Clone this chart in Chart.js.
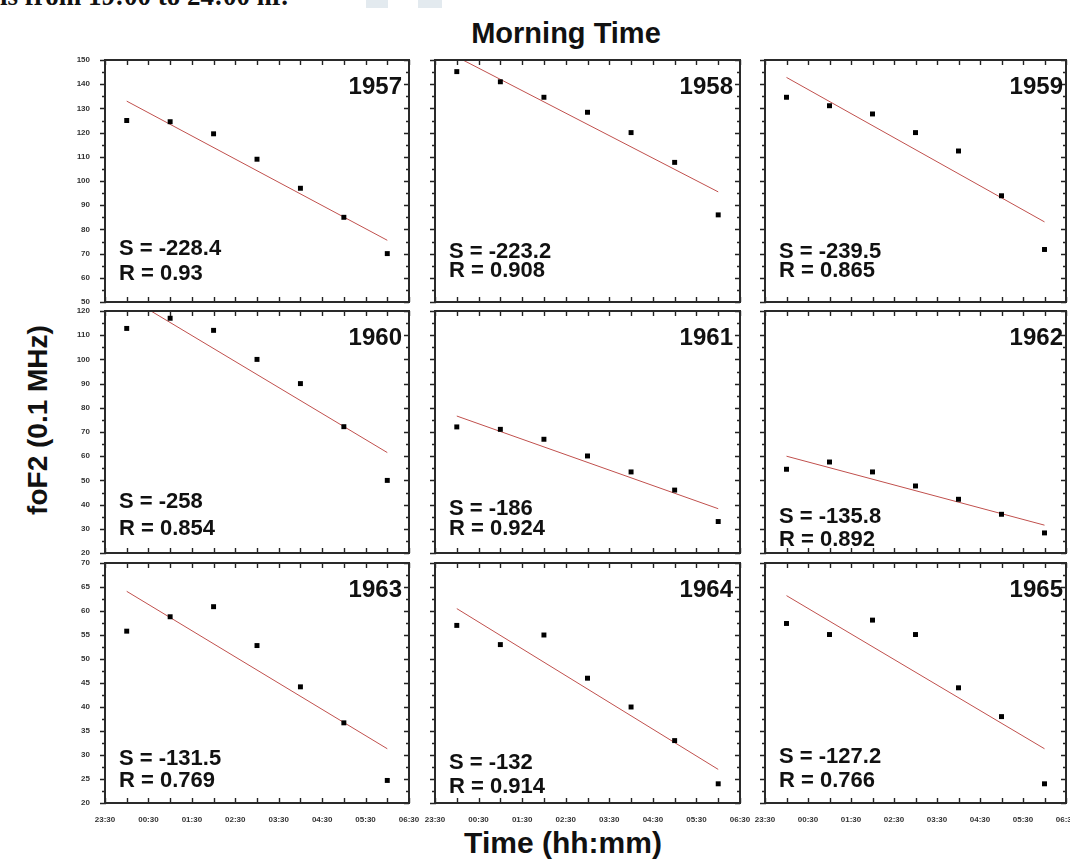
<!DOCTYPE html>
<html>
<head>
    <title>Morning Time - foF2</title>
    <script src="https://cdnjs.cloudflare.com/ajax/libs/Chart.js/4.4.1/chart.umd.min.js"></script>
    <style>
        body {
            margin: 0;
            background: #fff;
            font-family: "Liberation Sans", Arial, sans-serif;
        }

        #page {
            position: relative;
            width: 1070px;
            height: 863px;
            overflow: hidden;
            background: #fff;
        }

        #page canvas {
            position: absolute;
        }

        .label {
            position: absolute;
            font-weight: bold;
            color: #111;
            white-space: nowrap;
            line-height: 1;
            transform: translate(-50%, -50%);
        }

        #topText {
            position: absolute;
            left: 0;
            top: -17px;
            font-family: "Liberation Serif", "Times New Roman", serif;
            font-size: 27px;
            line-height: 27px;
            font-weight: bold;
            color: #111;
            white-space: nowrap;
        }

        .mark {
            position: absolute;
            background: #e3eaef;
        }
    </style>
</head>
<body>
<div id="page">
    <div class="mark" style="left:366px; top:0; width:22px; height:8px;"></div>
    <div class="mark" style="left:418px; top:0; width:24px; height:8px;"></div>
    <div id="topText">is from 19:00 to 24:00 hr.</div>
    <div class="label" style="left:566px; top:33px; font-size:29px;">Morning Time</div>
    <div class="label" style="left:563px; top:843px; font-size:30px;">Time (hh:mm)</div>
    <div class="label" style="left:38px; top:420px; font-size:28px; transform: translate(-50%, -50%) rotate(-90deg);">foF2 (0.1 MHz)</div>
</div>

<script>
    // hours after midnight: 00:00 .. 06:00
    const hours = [0, 1, 2, 3, 4, 5, 6];

    const xTickPos = [-0.5, 0.5, 1.5, 2.5, 3.5, 4.5, 5.5, 6.5];
    const xTickLabels = ['23:30', '00:30', '01:30', '02:30', '03:30', '04:30', '05:30', '06:30'];

    const years = ['1957', '1958', '1959', '1960', '1961', '1962', '1963', '1964', '1965'];

    const f1957 = [125, 124.5, 119.5, 109, 97, 85, 70];
    const f1958 = [145.2, 141, 134.6, 128.4, 120, 107.7, 86];
    const f1959 = [134.6, 131.1, 127.7, 120, 112.4, 93.9, 71.7];
    const f1960 = [112.8, 117, 112, 100, 90, 72.2, 50];
    const f1961 = [72.1, 71.1, 67, 60.1, 53.5, 46, 33];
    const f1962 = [54.6, 57.6, 53.5, 47.7, 42.2, 36, 28.3];
    const f1963 = [55.8, 58.8, 60.9, 52.8, 44.2, 36.7, 24.7];
    const f1964 = [57, 53, 55, 46, 40, 33, 24];
    const f1965 = [57.4, 55.1, 58.1, 55.1, 44, 38, 24];
    const foF2 = [f1957, f1958, f1959, f1960, f1961, f1962, f1963, f1964, f1965];

    // fitted line read at 00:00 and 06:00
    const fitStart = [133, 151.3, 142.8, 126, 76.6, 60, 64.1, 60.5, 63.2];
    const fitEnd = [75.5, 95.5, 83.1, 61.5, 38.3, 31.5, 31.3, 27, 31.3];

    const slopes = ['-228.4', '-223.2', '-239.5', '-258', '-186', '-135.8', '-131.5', '-132', '-127.2'];
    const corrs = ['0.93', '0.908', '0.865', '0.854', '0.924', '0.892', '0.769', '0.914', '0.766'];

    // y range for each row of panels
    const rowMin = [50, 20, 20];
    const rowMax = [150, 120, 70];
    const rowStep = [10, 10, 5];

    // page layout (pixels)
    const colLeft = [105, 435, 765];
    const colRight = [409, 740, 1066];
    const rowTop = [60, 311, 563];
    const rowBottom = [302, 553, 803];
    const M = 16, YW = 45, XH = 22;
    // S / R baselines above the bottom frame, per panel
    const textLift = [[47, 22], [44, 25], [44, 25], [45, 18], [38, 18], [30, 7], [38, 16], [34, 10], [40, 16]];

    Chart.defaults.font.family = '"Liberation Sans", Arial, sans-serif';

    const framePlugin = {
        id: 'frame',
        afterDatasetsDraw(chart, args, opts) {
            const { ctx, chartArea: a, scales: { x, y } } = chart;
            ctx.save();
            ctx.strokeStyle = '#222';
            ctx.lineWidth = 1.4;
            ctx.beginPath();
            // half-hour ticks, inward on top and bottom
            for (let i = -1; i <= 13; i++) {
                const px = Math.round(x.getPixelForValue(i / 2)) + 0.5;
                ctx.moveTo(px, a.top);
                ctx.lineTo(px, a.top + 5);
                ctx.moveTo(px, a.bottom);
                ctx.lineTo(px, a.bottom - 5);
            }
            // major and minor y ticks
            const half = opts.step / 2;
            for (let v = opts.min, k = 0; v <= opts.max + 0.001; v += half, k++) {
                const py = Math.round(y.getPixelForValue(v)) + 0.5;
                const len = k % 2 === 0 ? 5 : 3;
                ctx.moveTo(a.left - len, py);
                ctx.lineTo(a.left + 1, py);
                ctx.moveTo(a.right, py);
                ctx.lineTo(a.right - len, py);
            }
            ctx.stroke();

            ctx.lineWidth = 2;
            ctx.strokeStyle = '#2a2a2a';
            ctx.strokeRect(a.left, a.top, a.right - a.left, a.bottom - a.top);

            ctx.fillStyle = '#111';
            ctx.font = 'bold 24px "Liberation Sans", Arial, sans-serif';
            ctx.textAlign = 'right';
            ctx.textBaseline = 'alphabetic';
            ctx.fillText(opts.year, a.right - opts.yearPad, a.top + 34);

            ctx.font = 'bold 22px "Liberation Sans", Arial, sans-serif';
            ctx.textAlign = 'left';
            ctx.fillText('S = ' + opts.s, a.left + 14, a.bottom - opts.lift[0]);
            ctx.fillText('R = ' + opts.r, a.left + 14, a.bottom - opts.lift[1]);
            ctx.restore();
        }
    };

    const page = document.getElementById('page');

    years.forEach((year, i) => {
        const row = Math.floor(i / 3), col = i % 3;
        const leftCol = col === 0, bottomRow = row === 2;

        const canvas = document.createElement('canvas');
        const w = colRight[col] - colLeft[col] + 2 * M + (leftCol ? YW : 0);
        const h = rowBottom[row] - rowTop[row] + 2 * M + (bottomRow ? XH : 0);
        canvas.width = w;
        canvas.height = h;
        canvas.style.left = (colLeft[col] - M - (leftCol ? YW : 0)) + 'px';
        canvas.style.top = (rowTop[row] - M) + 'px';
        page.appendChild(canvas);

        new Chart(canvas, {
            type: 'scatter',
            data: {
                datasets: [{
                    data: hours.map((t, k) => ({ x: t, y: foF2[i][k] })),
                    backgroundColor: '#000',
                    borderColor: '#000',
                    borderWidth: 0,
                    pointStyle: 'rect',
                    pointRadius: 3.5
                }, {
                    type: 'line',
                    data: [{ x: hours[0], y: fitStart[i] }, { x: hours[hours.length - 1], y: fitEnd[i] }],
                    borderColor: '#c0504d',
                    borderWidth: 1,
                    pointRadius: 0,
                    fill: false
                }]
            },
            options: {
                responsive: false,
                animation: false,
                devicePixelRatio: 1,
                layout: { padding: { left: M, right: M, top: M, bottom: M } },
                plugins: {
                    legend: { display: false },
                    tooltip: { enabled: false },
                    frame: {
                        year: year, s: slopes[i], r: corrs[i], lift: textLift[i],
                        min: rowMin[row], max: rowMax[row], step: rowStep[row],
                        yearPad: col === 2 ? 3 : 7
                    }
                },
                scales: {
                    x: {
                        type: 'linear',
                        min: -0.5,
                        max: 6.5,
                        afterBuildTicks: s => { s.ticks = xTickPos.map(v => ({ value: v })); },
                        afterFit: s => {
                            s.height = bottomRow ? XH : 0;
                            s.paddingLeft = 0;
                            s.paddingRight = 0;
                        },
                        grid: { display: false },
                        border: { display: false },
                        ticks: {
                            display: bottomRow,
                            autoSkip: false,
                            maxRotation: 0,
                            padding: 4,
                            color: '#333',
                            font: { size: 8, weight: 'bold' },
                            callback: (v, k) => xTickLabels[k]
                        }
                    },
                    y: {
                        min: rowMin[row],
                        max: rowMax[row],
                        afterFit: s => {
                            s.width = leftCol ? YW : 0;
                            s.paddingTop = 0;
                            s.paddingBottom = 0;
                        },
                        grid: { display: false },
                        border: { display: false },
                        ticks: {
                            display: leftCol,
                            stepSize: rowStep[row],
                            padding: 7,
                            color: '#333',
                            font: { size: 8, weight: 'bold' }
                        }
                    }
                }
            },
            plugins: [framePlugin]
        });
    });
</script>
</body>
</html>
